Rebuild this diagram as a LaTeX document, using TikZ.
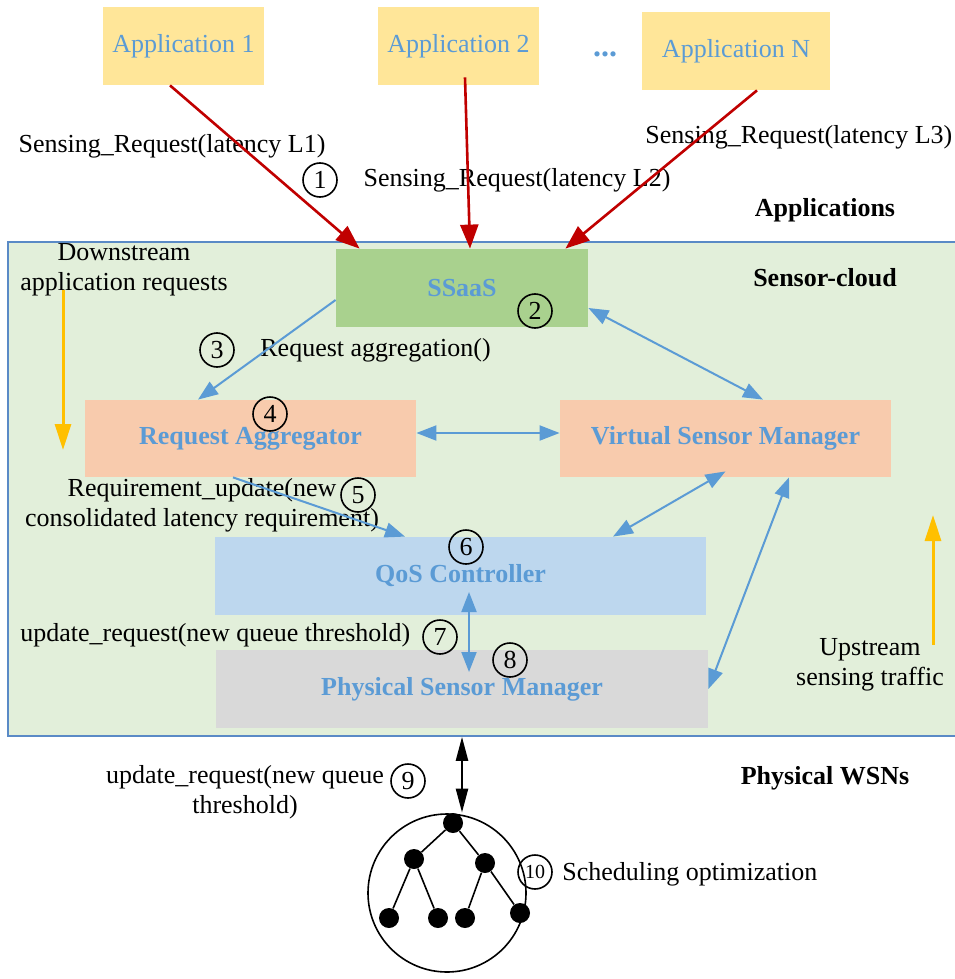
\documentclass[tikz,border=0pt]{standalone}
\usepackage{fontspec}
\setmainfont{Liberation Serif}
\usetikzlibrary{arrows.meta}
\definecolor{appyellow}{HTML}{FFE699}
\definecolor{labelblue}{HTML}{5B9BD5}
\definecolor{cloudgreen}{HTML}{E2EFDA}
\definecolor{cloudline}{HTML}{5A8AC6}
\definecolor{ssaasgreen}{HTML}{A9D18E}
\definecolor{mgrorange}{HTML}{F8CBAD}
\definecolor{qosblue}{HTML}{BDD7EE}
\definecolor{psmgray}{HTML}{D9D9D9}
\definecolor{reqred}{HTML}{C00000}
\definecolor{hintorange}{HTML}{FFC000}

\begin{document}
\begin{tikzpicture}[x=0.5pt, y=-0.5pt, font=\fontsize{13}{15}\selectfont,
	heavy/.style={font=\fontsize{13}{15}\selectfont\bfseries},
	box/.style={inner sep=0pt, minimum height=39pt, text=labelblue},
	num/.style={draw, circle, thick, inner sep=0pt, minimum size=17pt},
	dot/.style={fill=black, circle, inner sep=0pt, minimum size=10pt},
	req/.style={draw=reqred, line width=1.3pt, -{Triangle[length=12pt,width=9pt]}},
	flow/.style={draw=labelblue, line width=1pt, -{Triangle[length=10pt,width=7.5pt]}},
	both/.style={flow, {Triangle[length=10pt,width=7.5pt]}-{Triangle[length=10pt,width=7.5pt]}},
	hint/.style={draw=hintorange, line width=1.5pt, -{Triangle[length=13pt,width=8pt]}}]
	\useasboundingbox (0,0) rectangle (954,979);
	\node[box, fill=appyellow, minimum width=80.5pt] (app1) at (183.5,46) {Application 1};
	\node[box, fill=appyellow, minimum width=80.5pt] (app2) at (458.5,46) {Application 2};
	\node[text=labelblue, font=\fontsize{16}{18}\selectfont\bfseries] (dots) at (605,54) {...};
	\node[box, fill=appyellow, minimum width=94pt] (appN) at (736,51) {Application N};
	\node[draw=cloudline, fill=cloudgreen, thick, inner sep=0pt, minimum width=476pt, minimum height=247pt] (cloud) at (484,489) {};
	\node[box, fill=ssaasgreen, minimum width=126pt, heavy] (ssaas) at (462,288) {SSaaS};
	\node[box, fill=mgrorange, minimum width=165.5pt, minimum height=38.5pt, heavy] (aggr) at (250.5,438.5) {Request Aggregator};
	\node[box, fill=mgrorange, minimum width=165.5pt, minimum height=38.5pt, heavy] (vsm) at (725.5,438.5) {Virtual Sensor Manager};
	\node[box, fill=qosblue, minimum width=245.5pt, heavy] (qos) at (460.5,576) {QoS Controller};
	\node[box, fill=psmgray, minimum width=246pt, heavy] (psm) at (462,689) {Physical Sensor Manager};
	\node[heavy] (lblapps) at (825,210) {Applications};
	\node[heavy] (lblcloud) at (825,278) {Sensor-cloud};
	\node[heavy] (lblwsn) at (825,778) {Physical WSNs};
	\node (req1) at (172,146) {Sensing\_Request(latency L1)};
	\node (req2) at (517,180) {Sensing\_Request(latency L2)};
	\node[anchor=west, inner sep=0pt] (req3) at (645,137) {Sensing\_Request(latency L3)};
	\node[align=center] (down) at (124,270) {Downstream\\application requests};
	\node[anchor=west, inner sep=0pt] (aggtxt) at (260,350) {Request aggregation()};
	\node[align=center] (updtxt) at (202,505) {Requirement\_update(new\\consolidated latency requirement)};
	\node[anchor=west, inner sep=0pt] (qtxt) at (20,635) {update\_request(new queue threshold)};
	\node[align=center] (up) at (870,665) {Upstream\\sensing traffic};
	\node[align=center] (wsntxt) at (245,792) {update\_request(new queue\\threshold)};
	\node[anchor=west, inner sep=0pt] (schtxt) at (562,874) {Scheduling optimization};
	\node[num] (n1) at (320,180) {1};
	\node[num] (n2) at (535,311) {2};
	\node[num] (n3) at (217,350) {3};
	\node[num] (n4) at (270,414) {4};
	\node[num] (n5) at (358,495) {5};
	\node[num] (n6) at (466,547) {6};
	\node[num] (n7) at (440,637) {7};
	\node[num] (n8) at (510,660) {8};
	\node[num] (n9) at (408,781) {9};
	\node[num, font=\fontsize{10}{12}\selectfont] (n10) at (535,872) {10};
	\node[draw, circle, thick, minimum size=79pt] (wsn) at (447,893) {};
	\node[dot] (root) at (453,823) {};
	\node[dot] (m1) at (414,859) {};
	\node[dot] (m2) at (485,863) {};
	\node[dot] (l1) at (389,918) {};
	\node[dot] (l2) at (438,918) {};
	\node[dot] (l3) at (465,918) {};
	\node[dot] (l4) at (520,913) {};
	\draw[thick] (root) -- (m1) (root) -- (m2) (m1) -- (l1) (m1) -- (l2) (m2) -- (l3) (m2) -- (l4);
	\coordinate (dsStart) at (63,290);
	\coordinate (dsEnd) at (63,450);
	\coordinate (usStart) at (933,645);
	\coordinate (usEnd) at (933,515);
	\draw[hint] (dsStart) -- (dsEnd);
	\draw[hint] (usStart) -- (usEnd);
	\draw[req] ([xshift=-6.75pt]app1.south) -- ([xshift=12pt]ssaas.north west);
	\draw[req] ([xshift=3.25pt,yshift=4pt]app2.south) -- ([xshift=4pt]ssaas.north);
	\draw[req] ([xshift=10.5pt]appN.south) -- ([xshift=-11.5pt]ssaas.north east);
	\draw[flow] ([yshift=-6pt]ssaas.west) -- ([xshift=-26.25pt]aggr.north);
	\draw[both] ([yshift=-10pt]ssaas.east) -- ([xshift=18.75pt]vsm.north);
	\draw[both] ([yshift=2.75pt]aggr.east) -- ([yshift=2.75pt]vsm.west);
	\draw[flow] ([xshift=-8.75pt]aggr.south) -- ([xshift=-27.75pt]qos.north);
	\draw[both] ([yshift=3pt]vsm.south) -- ([xshift=76.25pt]qos.north);
	\draw[both] (psm.east) -- ([xshift=31.75pt]vsm.south);
	\draw[both] ([xshift=4.25pt,yshift=-8pt]qos.center) -- ([xshift=3.5pt,yshift=8.5pt]psm.center);
	\draw[line width=1.2pt, {Triangle[length=12pt,width=6pt]}-{Triangle[length=12pt,width=6pt]}] (psm.south |- cloud.south) -- ([xshift=4.5pt]root.north);
\end{tikzpicture}
\end{document}
